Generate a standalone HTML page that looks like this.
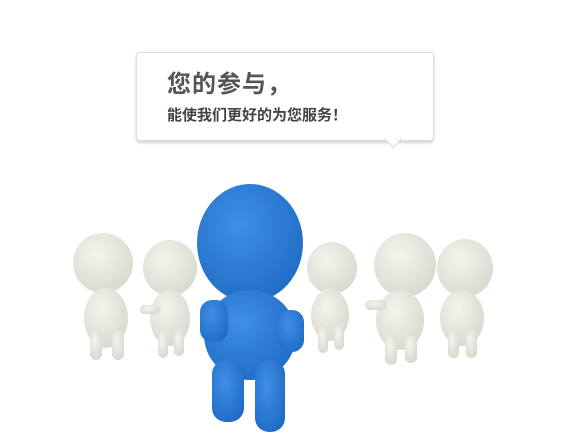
<!DOCTYPE html>
<html><head><meta charset="utf-8"><style>
html,body{margin:0;padding:0;background:#fff;}
#root{position:relative;width:570px;height:440px;overflow:hidden;background:#fff;font-family:"Liberation Sans","Noto Sans CJK SC",sans-serif;}
#bubble{position:absolute;left:136px;top:52px;width:296px;height:87px;border:1px solid #ddd;border-radius:4px;background:#fff;box-shadow:0 2px 3px rgba(0,0,0,0.18);}
#t1{position:absolute;left:30px;top:11px;font-size:24px;font-weight:bold;color:#555;letter-spacing:1px;}
#t2{position:absolute;left:30px;top:51px;font-size:15px;font-weight:bold;color:#444;}
</style></head><body>
<div id="root">
<svg width="570" height="440" style="position:absolute;left:0;top:0">
 <defs>
  <radialGradient id="wg" cx="40%" cy="35%" r="70%"><stop offset="0" stop-color="#f4f4ee"/><stop offset="1" stop-color="#d8d8cf"/></radialGradient>
  <radialGradient id="bg" cx="40%" cy="35%" r="70%"><stop offset="0" stop-color="#3f8fe6"/><stop offset="1" stop-color="#1f6cc4"/></radialGradient>
 </defs>
 <g fill="url(#wg)">
  <g><ellipse cx="103" cy="263" rx="30" ry="30"/><ellipse cx="106" cy="318" rx="22" ry="30"/><rect x="90" y="330" width="12" height="30" rx="6"/><rect x="112" y="330" width="12" height="30" rx="6"/></g>
  <g><ellipse cx="170" cy="268" rx="27" ry="28"/><ellipse cx="170" cy="318" rx="20" ry="28"/><rect x="158" y="330" width="10" height="28" rx="5"/><rect x="174" y="330" width="10" height="26" rx="5"/><rect x="140" y="305" width="20" height="9" rx="4"/></g>
  <g><ellipse cx="332" cy="268" rx="25" ry="26"/><ellipse cx="330" cy="315" rx="19" ry="26"/><rect x="318" y="325" width="10" height="28" rx="5"/><rect x="334" y="325" width="10" height="25" rx="5"/></g>
  <g><ellipse cx="405" cy="265" rx="31" ry="32"/><ellipse cx="400" cy="320" rx="24" ry="30"/><rect x="385" y="335" width="12" height="30" rx="6"/><rect x="405" y="335" width="12" height="28" rx="6"/><rect x="365" y="300" width="22" height="10" rx="5"/></g>
  <g><ellipse cx="465" cy="268" rx="28" ry="29"/><ellipse cx="462" cy="318" rx="22" ry="28"/><rect x="448" y="330" width="11" height="28" rx="5"/><rect x="466" y="330" width="11" height="28" rx="5"/></g>
 </g>
 <g fill="url(#bg)">
  <ellipse cx="250" cy="243" rx="53" ry="59"/>
  <ellipse cx="250" cy="335" rx="46" ry="45"/>
  <rect x="200" y="300" width="28" height="42" rx="12"/>
  <rect x="278" y="310" width="26" height="42" rx="12"/>
  <rect x="212" y="360" width="32" height="62" rx="14"/>
  <rect x="255" y="360" width="30" height="72" rx="14"/>
 </g>
</svg>
<div id="bubble">
 <div id="t1">您的参与，</div>
 <div id="t2">能使我们更好的为您服务！</div>
</div>
<svg width="20" height="12" style="position:absolute;left:383px;top:138px"><polygon points="2,1 18,1 10,10" fill="#fff" stroke="#ddd"/><rect x="3" y="0" width="14" height="2" fill="#fff"/></svg>
</div>
</body></html>
